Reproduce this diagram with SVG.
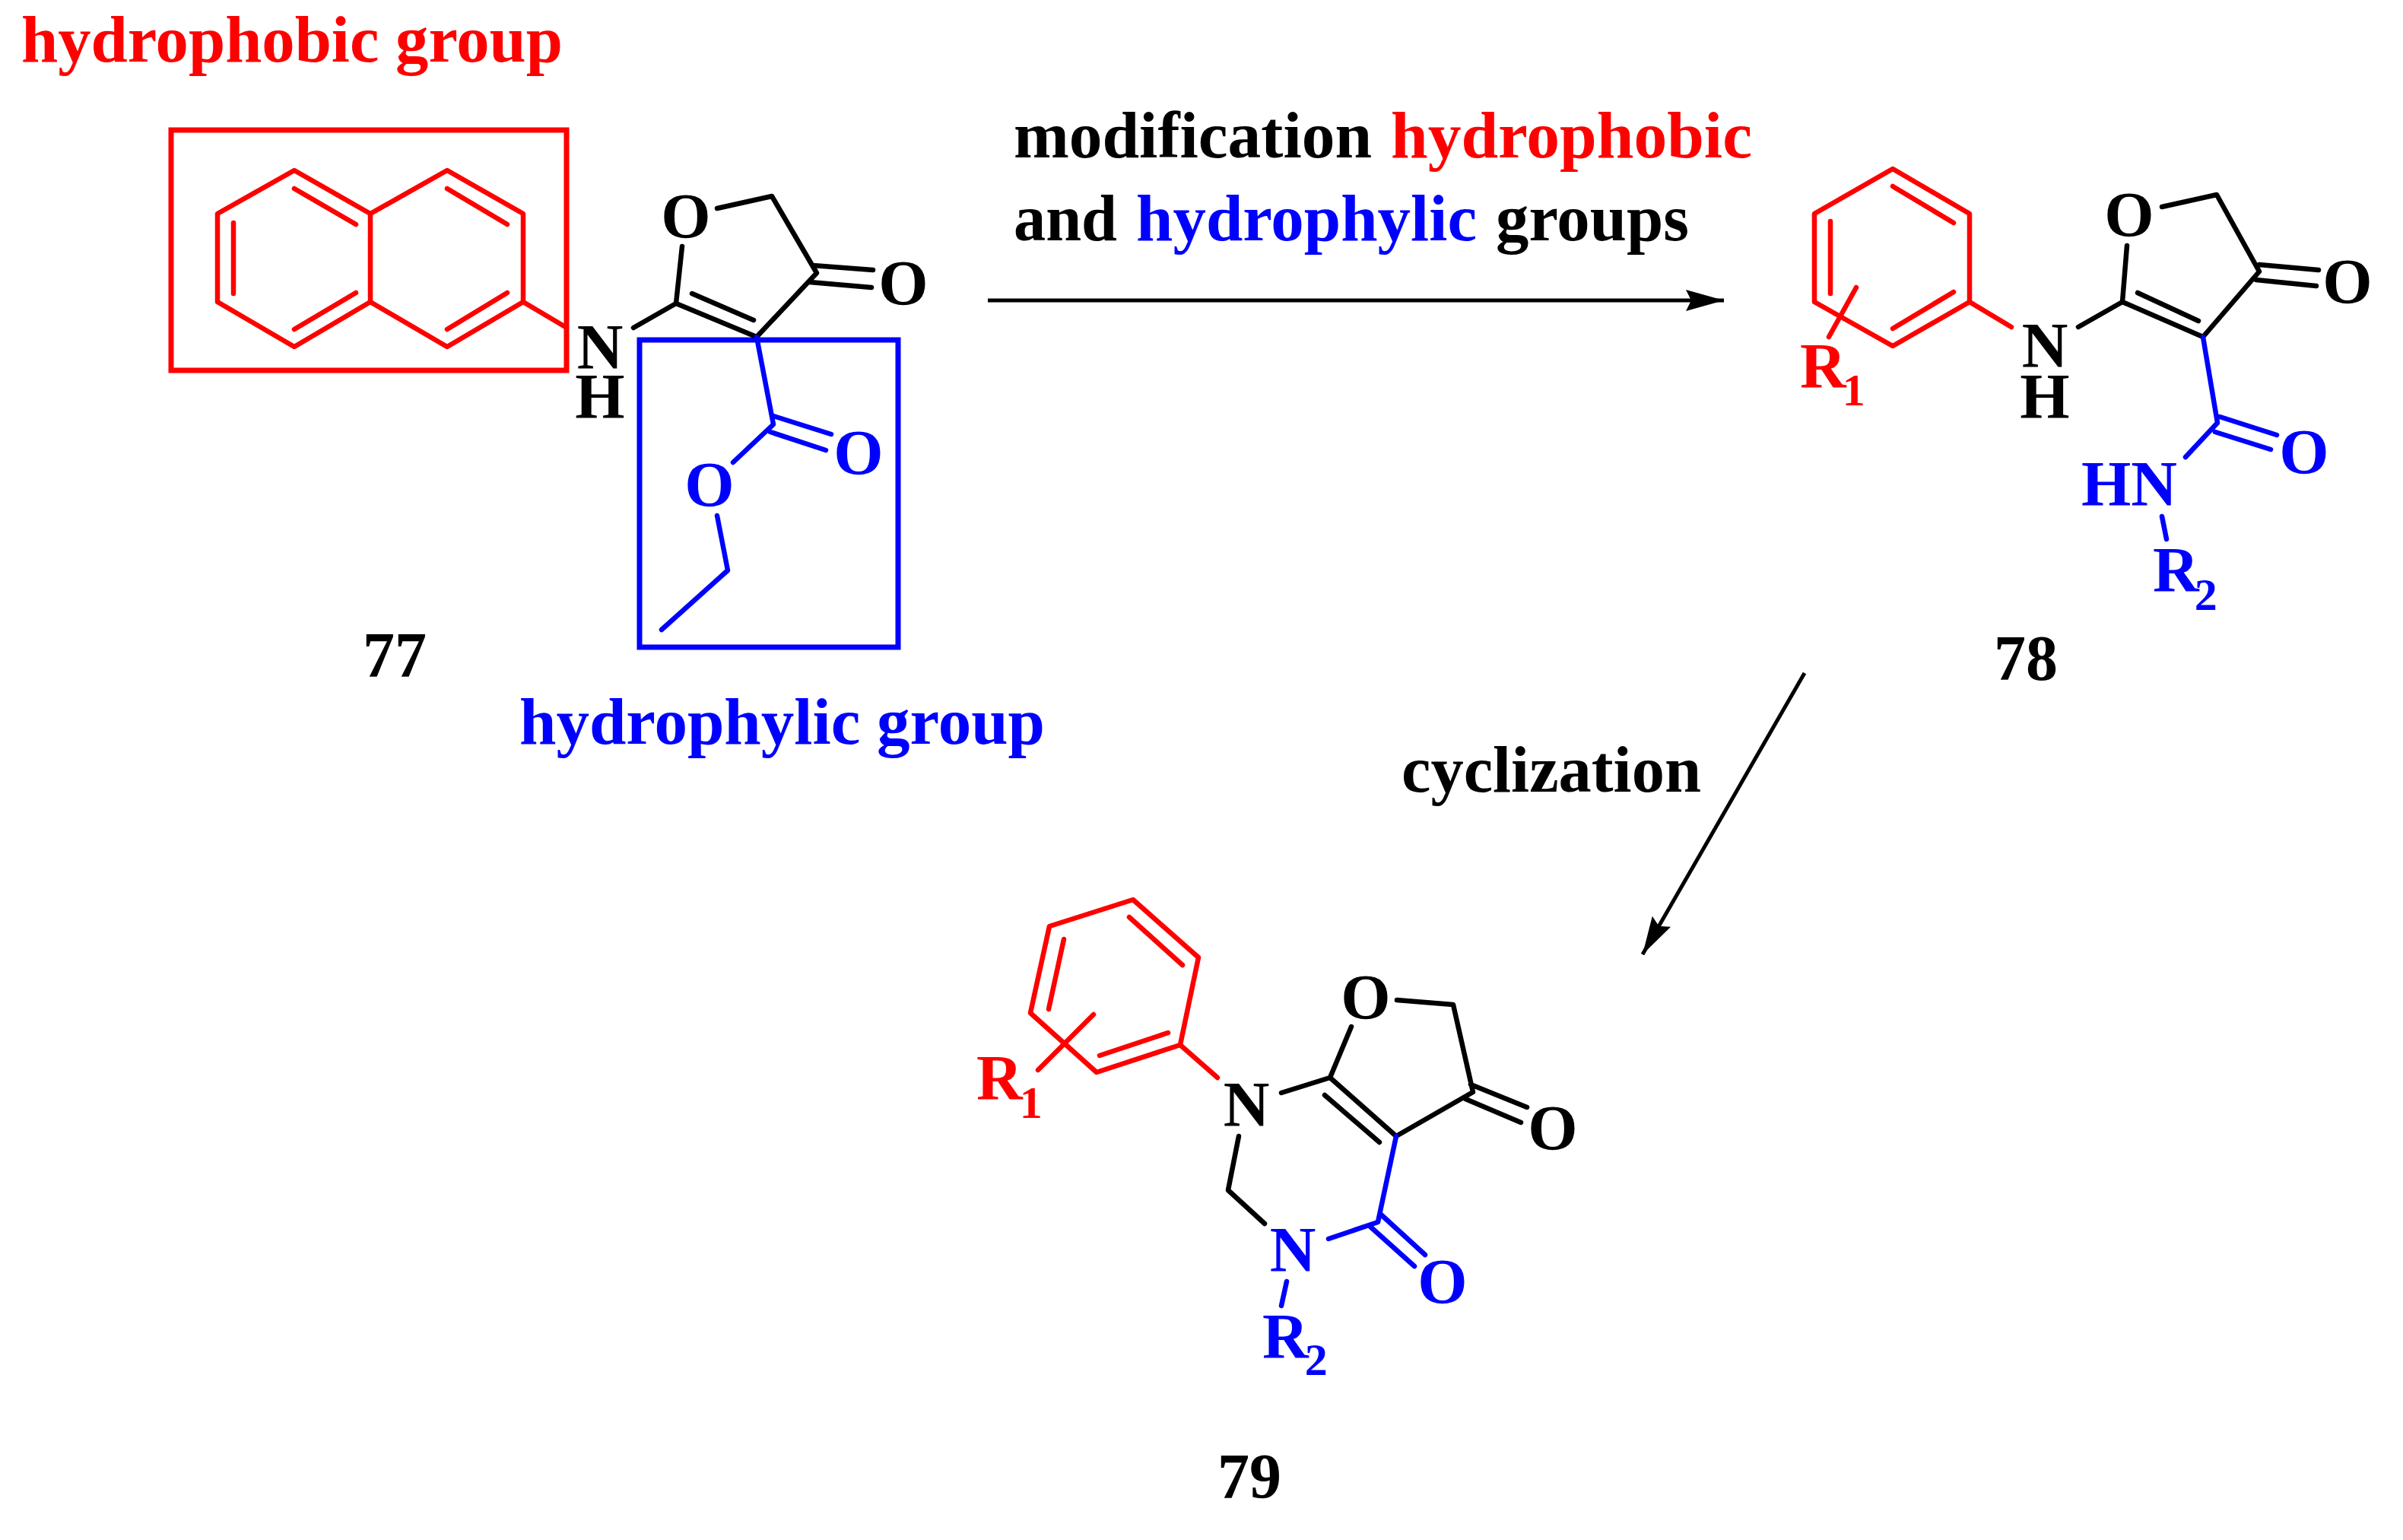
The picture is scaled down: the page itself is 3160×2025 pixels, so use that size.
<svg xmlns="http://www.w3.org/2000/svg" width="3160" height="2025" viewBox="0 0 3160 2025">
<style>
text{font-family:"Liberation Serif","Times New Roman",serif;font-weight:bold;font-size:84px}
.a{text-anchor:middle}
.s{font-size:60px}
.l{font-size:87px}
.k{fill:#000}.r{fill:#f00}.b{fill:#00f}
path{fill:none;stroke-width:6.5;stroke-linecap:round;stroke-linejoin:round}
.K{stroke:#000}.R{stroke:#f00}.B{stroke:#00f}
.box{fill:none;stroke-width:7}
.ar{stroke:#000;stroke-width:5;fill:none}
</style>
<defs>
<marker id="head" markerUnits="userSpaceOnUse" markerWidth="52" markerHeight="30" refX="50" refY="15" orient="auto">
<polygon points="0,1 50,15 0,29 7,15" fill="#000"/>
</marker>
</defs>
<rect width="3160" height="2025" fill="#fff"/>
<g id="label-hydrophobic-group"><text class="l r" x="28" y="81" textLength="712" lengthAdjust="spacingAndGlyphs">hydrophobic group</text></g>
<g id="label-hydrophylic-group"><text class="l b" x="683" y="978" textLength="691" lengthAdjust="spacingAndGlyphs">hydrophylic group</text></g>
<g id="label-modification">
<text class="l k" x="1333" y="207" textLength="471" lengthAdjust="spacingAndGlyphs">modification</text>
<text class="l r" x="1829" y="207" textLength="475" lengthAdjust="spacingAndGlyphs">hydrophobic</text>
<text class="l k" x="1333" y="316" textLength="136" lengthAdjust="spacingAndGlyphs">and</text>
<text class="l b" x="1494" y="316" textLength="448" lengthAdjust="spacingAndGlyphs">hydrophylic</text>
<text class="l k" x="1967" y="316" textLength="254" lengthAdjust="spacingAndGlyphs">groups</text>
</g>
<g id="label-cyclization"><text class="l k" x="1843" y="1041" textLength="394" lengthAdjust="spacingAndGlyphs">cyclization</text></g>
<g id="connectors">
<line class="ar" x1="1299" y1="395" x2="2267" y2="395" marker-end="url(#head)"/>
<line class="ar" x1="2373" y1="885" x2="2160" y2="1255" marker-end="url(#head)"/>
</g>
<g id="compound-77">
<rect class="box R" x="225" y="171" width="520" height="316"/>
<rect class="box B" x="841" y="447" width="340" height="404"/>
<path class="R" d="M286 281L387 224L487 281L588 224L688 281V397L588 456L487 397L387 456L286 397ZM487 281V397M307 293V386M387 248L468 295M387 433L468 385M588 248L667 295M588 433L667 385M688 397L742 429"/>
<path class="K" d="M833 431L889 399L995 443L1074 359L1015 258L943 274M889 399L897 324M910 386L991 421M1069 349L1148 355M1065 371L1146 378"/>
<path class="B" d="M995 443L1017 558L964 608M1017 547L1093 571M1013 568L1086 592M943 678L957 750L870 828"/>
<text class="a k"><tspan x="789" y="485">N</tspan><tspan x="789" y="550">H</tspan></text>
<text class="a k" x="902" y="313">O</text><text class="a k" x="1188" y="401">O</text>
<text class="a b" x="1129" y="624">O</text><text class="a b" x="933" y="666">O</text>
<text class="a k" x="519" y="890">77</text>
</g>
<g id="compound-78">
<path class="R" d="M2489 222L2590 281V397L2489 455L2386 397V281ZM2489 245L2569 293M2407 291V386M2489 432L2569 384M2441 378L2405 443M2590 397L2645 430"/>
<path class="K" d="M2733 430L2791 397L2897 443L2971 357L2915 256L2843 272M2791 397L2797 323M2811 385L2891 422M2971 348L3049 355M2967 368L3046 376"/>
<path class="B" d="M2897 443L2916 556L2874 601M2919 548L2994 572M2913 568L2986 591M2843 679L2849 709"/>
<text class="a k"><tspan x="2689" y="483">N</tspan><tspan x="2689" y="550">H</tspan></text>
<text class="a k" x="2800" y="311">O</text><text class="a k" x="3087" y="399">O</text>
<text class="a b" x="3030" y="623">O</text>
<text class="a b" x="2800" y="665">HN</text>
<text class="r" x="2367" y="510">R<tspan class="s" dx="-5" dy="23">1</tspan></text>
<text class="b" x="2831" y="778">R<tspan class="s" dx="-6" dy="24">2</tspan></text>
<text class="a k" x="2664" y="894">78</text>
</g>
<g id="compound-79">
<path class="R" d="M1490 1183L1576 1259L1552 1374L1442 1410L1355 1332L1380 1218ZM1485 1206L1555 1269M1399 1235L1379 1327M1446 1388L1536 1358M1438 1334L1365 1407M1552 1374L1601 1417"/>
<path class="K" d="M1685 1437L1749 1417L1836 1494L1937 1436L1911 1321L1837 1315M1749 1417L1777 1350M1742 1440L1814 1502M1934 1426L2008 1456M1927 1445L2000 1476M1629 1494L1615 1565L1663 1609"/>
<path class="B" d="M1836 1494L1812 1607L1747 1629M1816 1597L1874 1650M1802 1613L1860 1665M1692 1685L1685 1717"/>
<text class="a k" x="1639" y="1481">N</text>
<text class="a k" x="1796" y="1340">O</text><text class="a k" x="2042" y="1512">O</text>
<text class="a b" x="1700" y="1672">N</text><text class="a b" x="1897" y="1714">O</text>
<text class="r" x="1284" y="1446">R<tspan class="s" dx="-4" dy="24">1</tspan></text>
<text class="b" x="1660" y="1786">R<tspan class="s" dx="-5" dy="22">2</tspan></text>
<text class="a k" x="1643" y="1970">79</text>
</g>
</svg>
